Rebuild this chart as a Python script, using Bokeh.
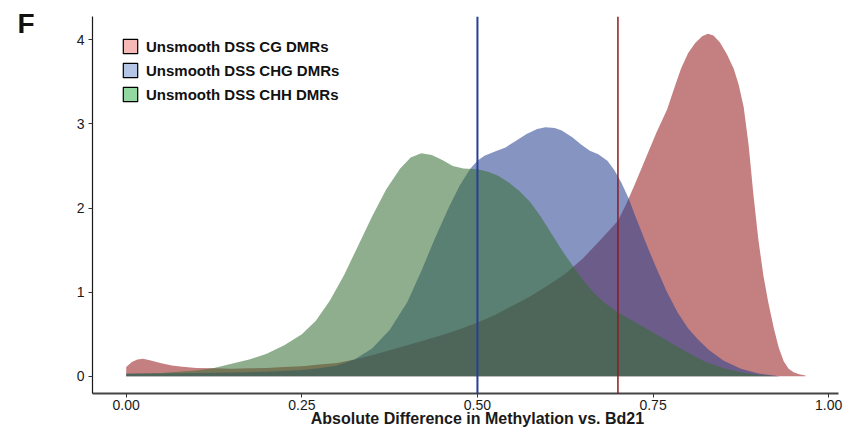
from bokeh.plotting import figure
from bokeh.models import (ColumnDataSource, Span, Legend, LegendItem,
                          FixedTicker, LinearAxis)
from bokeh.embed import file_html
from bokeh.resources import INLINE

# Density estimates of |difference in methylation| for each DMR context
cg_x = [0.0, 0.008, 0.016, 0.024, 0.035, 0.05, 0.065, 0.08, 0.1, 0.125, 0.15,
        0.175, 0.2, 0.225, 0.25, 0.275, 0.3, 0.325, 0.35, 0.375, 0.4, 0.425,
        0.45, 0.475, 0.5, 0.525, 0.55, 0.575, 0.6, 0.625, 0.65, 0.675, 0.7,
        0.712, 0.725, 0.74, 0.755, 0.77, 0.78, 0.79, 0.8, 0.81, 0.82, 0.828,
        0.836, 0.845, 0.855, 0.865, 0.872, 0.879, 0.886, 0.893, 0.9, 0.907,
        0.914, 0.922, 0.929, 0.936, 0.943, 0.95, 0.958, 0.967]
cg_y = [0.11, 0.17, 0.2, 0.21, 0.19, 0.155, 0.13, 0.115, 0.1, 0.095, 0.09,
        0.095, 0.1, 0.11, 0.12, 0.14, 0.16, 0.2, 0.25, 0.31, 0.37, 0.43,
        0.49, 0.56, 0.64, 0.73, 0.84, 0.95, 1.08, 1.22, 1.4, 1.62, 1.85,
        2.05, 2.3, 2.6, 2.9, 3.17, 3.42, 3.66, 3.84, 3.96, 4.04, 4.07,
        4.05, 3.97, 3.83, 3.65, 3.46, 3.2, 2.75, 2.15, 1.62, 1.2,
        0.88, 0.57, 0.34, 0.18, 0.09, 0.05, 0.025, 0.01]

chg_x = [0.0, 0.05, 0.1, 0.15, 0.2, 0.25, 0.275, 0.3, 0.325, 0.35, 0.375, 0.4,
         0.42, 0.44, 0.46, 0.475, 0.49, 0.5, 0.51, 0.525, 0.54, 0.555, 0.57,
         0.585, 0.597, 0.61, 0.62, 0.635, 0.648, 0.66, 0.672, 0.685, 0.695,
         0.705, 0.715, 0.725, 0.74, 0.755, 0.77, 0.785, 0.8, 0.815, 0.83,
         0.85, 0.875, 0.9, 0.93]
chg_y = [0.03, 0.035, 0.04, 0.045, 0.055, 0.075, 0.095, 0.13, 0.2, 0.33, 0.55,
         0.88, 1.25, 1.65, 2.02, 2.27, 2.47, 2.56, 2.62, 2.67, 2.72, 2.8, 2.88,
         2.94, 2.96, 2.95, 2.92, 2.84, 2.75, 2.68, 2.64, 2.56, 2.45,
         2.3, 2.12, 1.9, 1.58, 1.28, 1.0, 0.76, 0.57, 0.43, 0.31,
         0.19, 0.09, 0.035, 0.0]

chh_x = [0.0, 0.05, 0.1, 0.125, 0.15, 0.175, 0.2, 0.225, 0.25, 0.27, 0.29,
         0.31, 0.33, 0.35, 0.37, 0.39, 0.405, 0.42, 0.435, 0.45, 0.465, 0.48,
         0.5, 0.515, 0.53, 0.545, 0.56, 0.575, 0.59, 0.605, 0.62, 0.635, 0.65,
         0.665, 0.68, 0.7, 0.725, 0.75, 0.775, 0.8, 0.825, 0.85, 0.875, 0.9,
         0.93]
chh_y = [0.03, 0.04, 0.07, 0.1, 0.15, 0.2, 0.27, 0.37, 0.5, 0.66, 0.9,
         1.2, 1.55, 1.9, 2.22, 2.47, 2.6, 2.65, 2.63, 2.57, 2.5, 2.47,
         2.46, 2.43, 2.38, 2.3, 2.2, 2.07, 1.9, 1.7, 1.5, 1.32, 1.15,
         1.0, 0.88, 0.76, 0.64, 0.52, 0.4, 0.28, 0.17, 0.1, 0.05, 0.02,
         0.0]

series_names = ["Unsmooth DSS CG DMRs", "Unsmooth DSS CHG DMRs",
                "Unsmooth DSS CHH DMRs"]
fill_colors = ["#961A1C", "#274092", "#376F36"]
key_colors = ["#F7B9B6", "#B5C5E6", "#93D8A0"]

# cut-off lines
cutoffs = [0.5, 0.7]
cutoff_colors = ["#283F94", "#8E1B1F"]
cutoff_widths = [2, 1.5]

x_ticks = [0.0, 0.25, 0.5, 0.75, 1.0]
x_tick_labels = ["0.00", "0.25", "0.50", "0.75", "1.00"]
y_ticks = [0, 1, 2, 3, 4]
x_title = "Absolute Difference in Methylation vs. Bd21"
panel_tag = "F"

FONT = "Liberation Sans"
NAN = float("nan")

p = figure(width=865, height=432, output_backend="svg", toolbar_location=None,
           x_range=(-0.048, 1.014), y_range=(-0.2035, 4.275),
           min_border_left=92, min_border_right=27, min_border_top=16,
           min_border_bottom=39, background_fill_color="white",
           border_fill_color="white")
p.outline_line_color = None
p.xgrid.visible = False
p.ygrid.visible = False

for xs, ys, col in zip([cg_x, chg_x, chh_x], [cg_y, chg_y, chh_y], fill_colors):
    src = ColumnDataSource(dict(x=xs, y1=[0] * len(xs), y2=ys))
    p.varea(x="x", y1="y1", y2="y2", source=src, fill_color=col,
            fill_alpha=0.56)

for loc, col, w in zip(cutoffs, cutoff_colors, cutoff_widths):
    p.add_layout(Span(location=loc, dimension="height", line_color=col,
                      line_width=w))

# legend keys (placeholder quads that only show up in the legend)
items = []
for name, col in zip(series_names, key_colors):
    r = p.quad(left=[NAN], right=[NAN], top=[NAN], bottom=[NAN],
               fill_color=col, line_color="black", line_width=1.2)
    items.append(LegendItem(label=name, renderers=[r]))

legend = Legend(items=items, location=(29, 377 - 21 - 66), padding=0,
                margin=0, spacing=6, glyph_width=18, glyph_height=18,
                label_height=18, label_standoff=7,
                label_text_font=FONT, label_text_font_style="bold",
                label_text_font_size="15px", label_text_color="#111",
                border_line_color=None, background_fill_alpha=0)
p.add_layout(legend)

# axes
for ax in (p.xaxis[0], p.yaxis[0]):
    ax.major_tick_out = 4
    ax.major_tick_in = 0
    ax.minor_tick_out = 0
    ax.minor_tick_in = 0
    ax.major_tick_line_color = "#333333"
    ax.major_label_text_font = FONT
    ax.major_label_text_font_size = "14px"
    ax.major_label_text_color = "#1a1a1a"

p.xaxis.ticker = FixedTicker(ticks=x_ticks)
p.xaxis.major_label_overrides = {t: s for t, s in zip(x_ticks, x_tick_labels)}
p.xaxis.major_label_standoff = 2
p.xaxis.axis_line_color = "#444444"
p.xaxis.axis_line_width = 1.8

p.yaxis.ticker = FixedTicker(ticks=y_ticks)
p.yaxis.major_label_standoff = 4
p.yaxis.axis_line_color = "#1a1a1a"
p.yaxis.axis_line_width = 1.2

# x-axis title, centred under x = 0.5
title_axis = LinearAxis(ticker=FixedTicker(ticks=[0.5]),
                        major_label_overrides={0.5: x_title},
                        axis_line_color=None, major_tick_line_color=None,
                        minor_tick_line_color=None, major_tick_out=0,
                        major_tick_in=0, major_label_standoff=-3,
                        major_label_text_font=FONT,
                        major_label_text_font_style="bold",
                        major_label_text_font_size="16px",
                        major_label_text_color="#1a1a1a")
p.add_layout(title_axis, "below")

# panel tag in the top-left corner
tag_axis = LinearAxis(ticker=FixedTicker(ticks=[4.19]),
                      major_label_overrides={4.19: panel_tag},
                      axis_line_color=None, major_tick_line_color=None,
                      minor_tick_line_color=None, major_tick_out=0,
                      major_tick_in=0, major_label_standoff=39,
                      major_label_text_font=FONT,
                      major_label_text_font_style="bold",
                      major_label_text_font_size="28px",
                      major_label_text_color="#111")
p.add_layout(tag_axis, "left")

open("out.html", "w").write(file_html(p, INLINE))
